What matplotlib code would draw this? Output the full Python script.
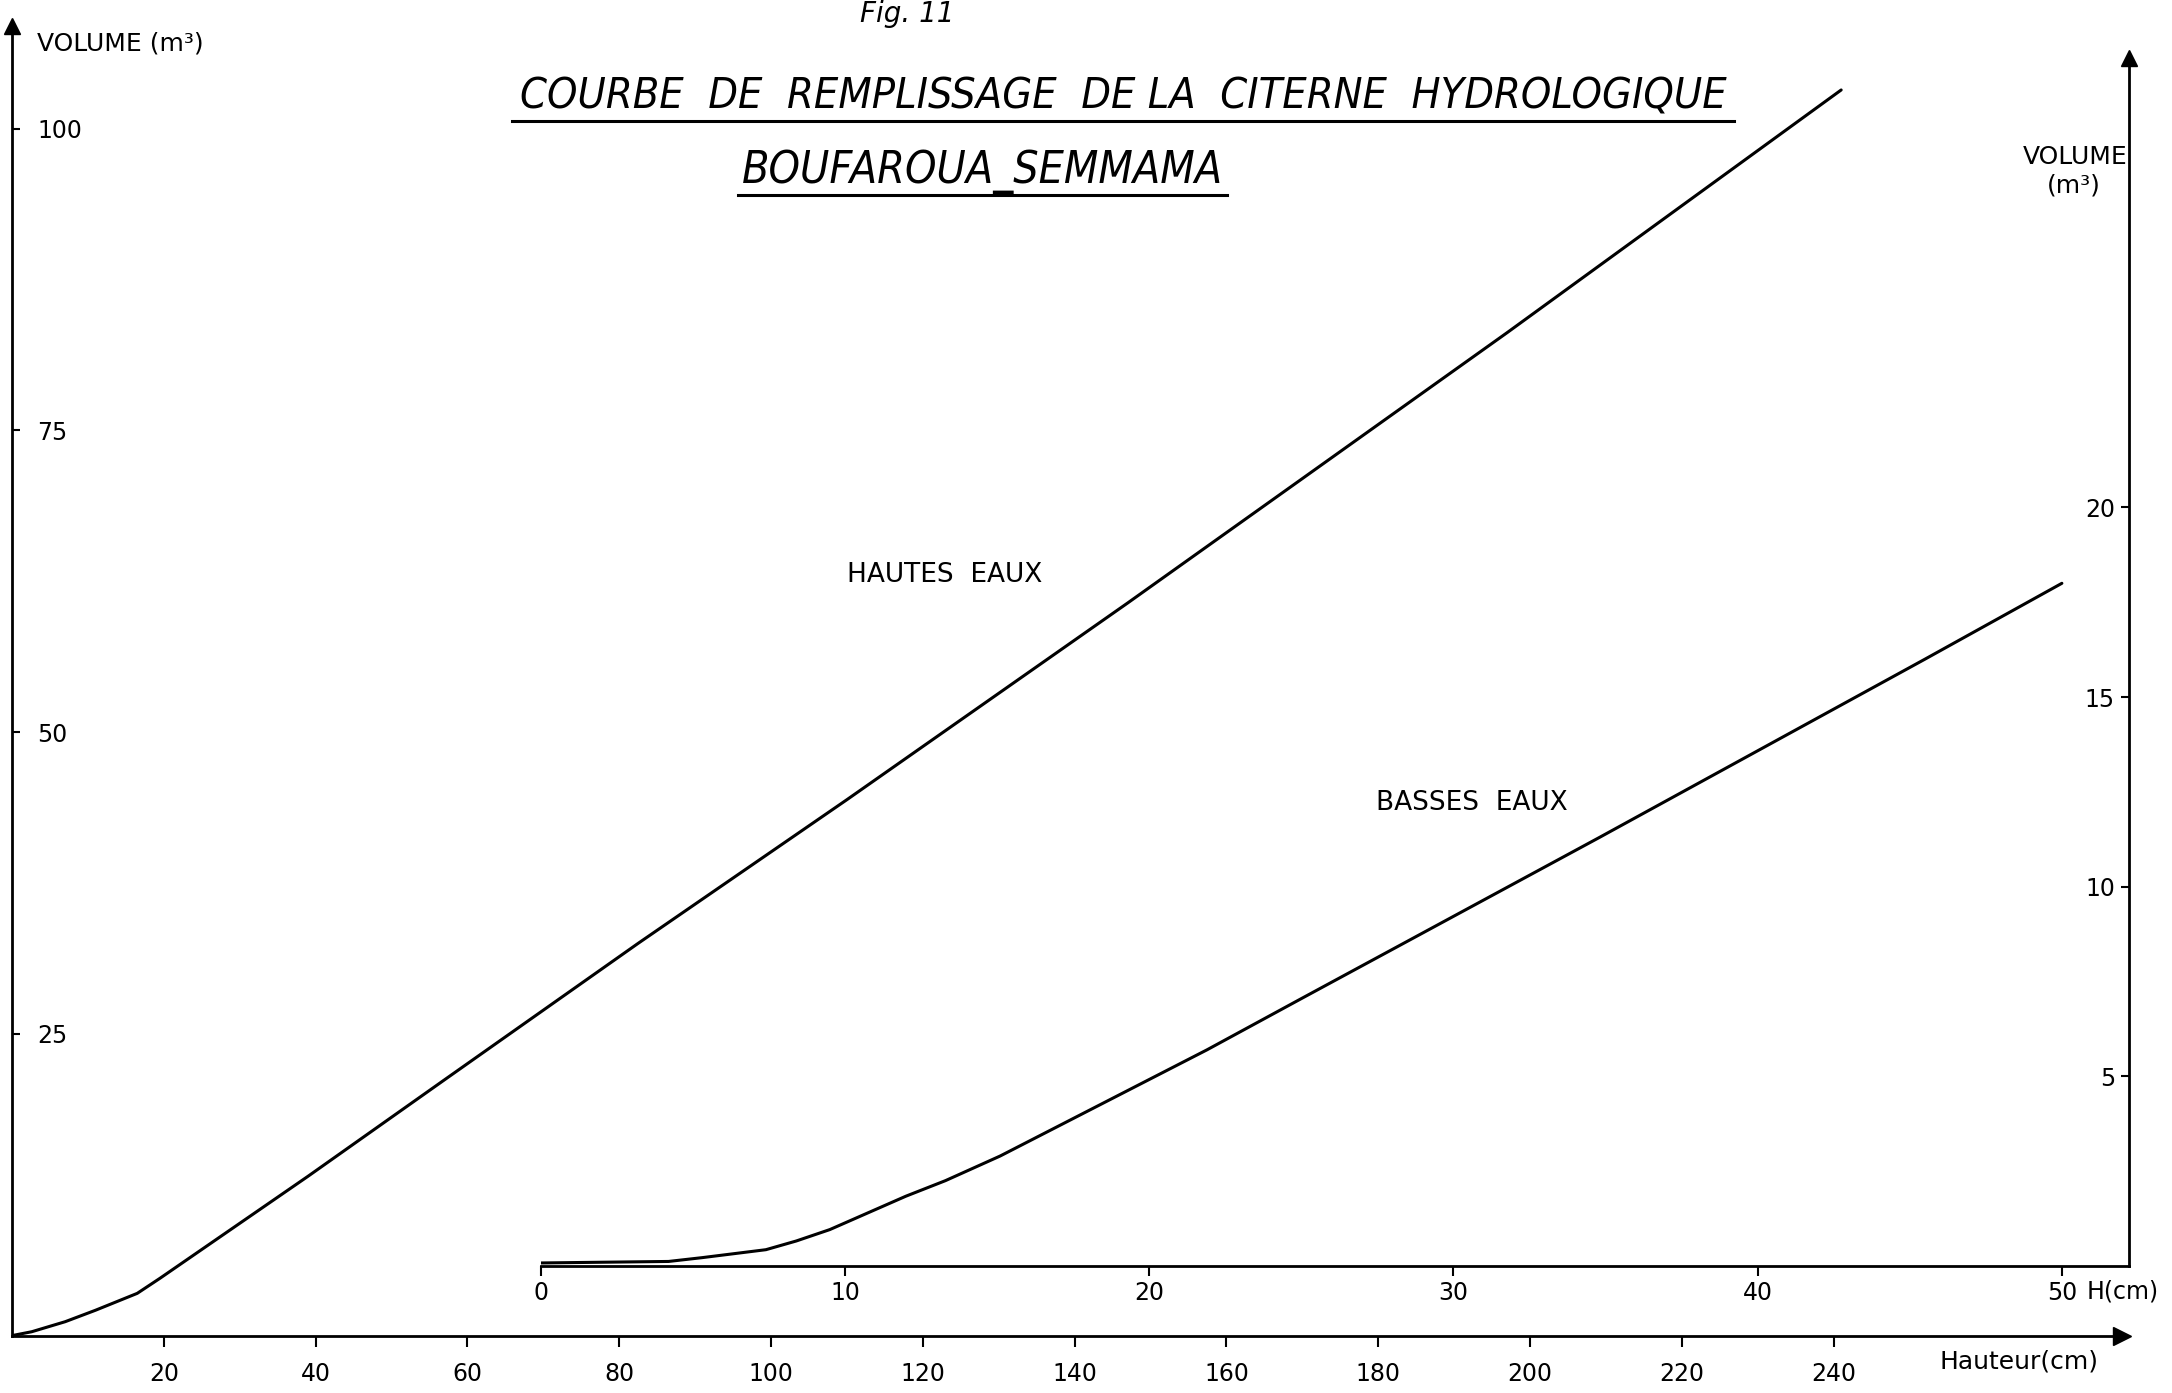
import matplotlib
matplotlib.use("Agg")
import matplotlib.pyplot as plt
from matplotlib.lines import Line2D

# High-water filling curve: height (cm) -> volume (m3), lower-left scale
hautes_h = [0, 2.6, 7, 11, 16.5, 19.5, 39, 57, 82.5, 110, 147, 170, 197, 241]
hautes_v = [0, 0.32, 1.15, 2.1, 3.5, 4.75, 13.2, 21.2, 32.5, 44.4, 60.7, 71.0, 83.1, 103.2]

# Low-water filling curve: height (cm) -> volume (m3), inner/right scale
basses_h = [0, 4.2, 5.3, 7.4, 8.4, 9.5, 12.0, 13.3, 15.1, 21.9, 25.0, 34.8, 45.5, 50.0]
basses_v = [0.08, 0.12, 0.22, 0.43, 0.66, 0.96, 1.84, 2.25, 2.9, 5.7, 7.05, 11.3, 16.0, 18.0]

main_xticks = [20, 40, 60, 80, 100, 120, 140, 160, 180, 200, 220, 240]
main_yticks = [25, 50, 75, 100]
inner_xticks = [0, 10, 20, 30, 40, 50]
inner_yticks = [5, 10, 15, 20]

W, H = 2172, 1393
FONT = "DejaVu Sans"
plt.rcParams["font.family"] = FONT


def fx(px):
    return px / W


def fy(py):
    return 1 - py / H


fig = plt.figure(figsize=(W / 100, H / 100), dpi=100)
fig.patch.set_facecolor("white")

# Main axes (hautes eaux)
ax1 = fig.add_axes([fx(12), fy(1335.6), 2110 / W, 1309.6 / H])
ax1.set_xlim(0, 278)
ax1.set_ylim(0, 108.5)
ax1.patch.set_alpha(0)
for s in ("top", "right"):
    ax1.spines[s].set_visible(False)
for s in ("left", "bottom"):
    ax1.spines[s].set_linewidth(2)
ax1.set_xticks(main_xticks)
ax1.set_xticklabels([str(v) for v in main_xticks], fontsize=17)
ax1.set_yticks(main_yticks)
ax1.set_yticklabels([str(v) for v in main_yticks], fontsize=17)
ax1.tick_params(axis="x", direction="out", length=8, width=1.5, pad=11)
ax1.tick_params(axis="y", direction="in", length=6, width=1.5, pad=-18)
for lbl in ax1.get_yticklabels():
    lbl.set_horizontalalignment("left")
ax1.plot(1, 0, marker=">", ms=13, color="k", transform=ax1.transAxes, clip_on=False)
ax1.plot(0, 1, marker="^", ms=11, color="k", transform=ax1.transAxes, clip_on=False)
ax1.plot(hautes_h, hautes_v, color="k", lw=2.2, solid_capstyle="round",
         solid_joinstyle="round")

# Inner axes (basses eaux)
ax2 = fig.add_axes([fx(540.8), fy(1266), 1588 / W, 1208 / H])
ax2.set_xlim(0, 52.2)
ax2.set_ylim(0, 31.85)
ax2.patch.set_alpha(0)
for s in ("top", "left"):
    ax2.spines[s].set_visible(False)
for s in ("right", "bottom"):
    ax2.spines[s].set_linewidth(2)
ax2.yaxis.tick_right()
ax2.set_xticks(inner_xticks)
ax2.set_xticklabels([str(v) for v in inner_xticks], fontsize=17)
ax2.set_yticks(inner_yticks)
ax2.set_yticklabels([str(v) for v in inner_yticks], fontsize=17)
ax2.tick_params(axis="x", direction="out", length=7, width=1.5, pad=4)
ax2.tick_params(axis="y", direction="in", length=6, width=1.5, pad=-10)
for lbl in ax2.get_yticklabels():
    lbl.set_horizontalalignment("right")
ax2.plot(1, 1, marker="^", ms=11, color="k", transform=ax2.transAxes, clip_on=False)
ax2.plot(basses_h, basses_v, color="k", lw=2.2, solid_capstyle="round",
         solid_joinstyle="round")

# Axis titles
fig.text(fx(37), fy(43), "VOLUME (m³)", fontsize=18, ha="left", va="center")
fig.text(fx(2075), fy(157), "VOLUME", fontsize=18, ha="center", va="center")
fig.text(fx(2074), fy(185), "(m³)", fontsize=18, ha="center", va="center")
fig.text(fx(2019), fy(1361), "Hauteur(cm)", fontsize=18, ha="center", va="center")
fig.text(fx(2087), fy(1291), "H(cm)", fontsize=17, ha="left", va="center")

# Curve names
fig.text(fx(945), fy(575), "HAUTES  EAUX", fontsize=19, ha="center", va="center")
fig.text(fx(1472), fy(803), "BASSES  EAUX", fontsize=19, ha="center", va="center")

# Title block
fig.text(fx(907), fy(0), "Fig. 11", fontsize=20, style="italic", ha="center", va="top")
fig.text(fx(1123), fy(97), "COURBE  DE  REMPLISSAGE  DE LA  CITERNE  HYDROLOGIQUE",
         fontsize=31, style="italic", fontstretch="condensed", ha="center", va="center")
fig.text(fx(982), fy(172), "BOUFAROUA_SEMMAMA",
         fontsize=32, style="italic", fontstretch="condensed", ha="center", va="center")
fig.add_artist(Line2D([fx(512), fx(1734)], [fy(120.5), fy(120.5)], color="k", lw=2.2))
fig.add_artist(Line2D([fx(738), fx(1227)], [fy(195), fy(195)], color="k", lw=2.2))

fig.savefig("out.png", dpi=100, facecolor="white")
